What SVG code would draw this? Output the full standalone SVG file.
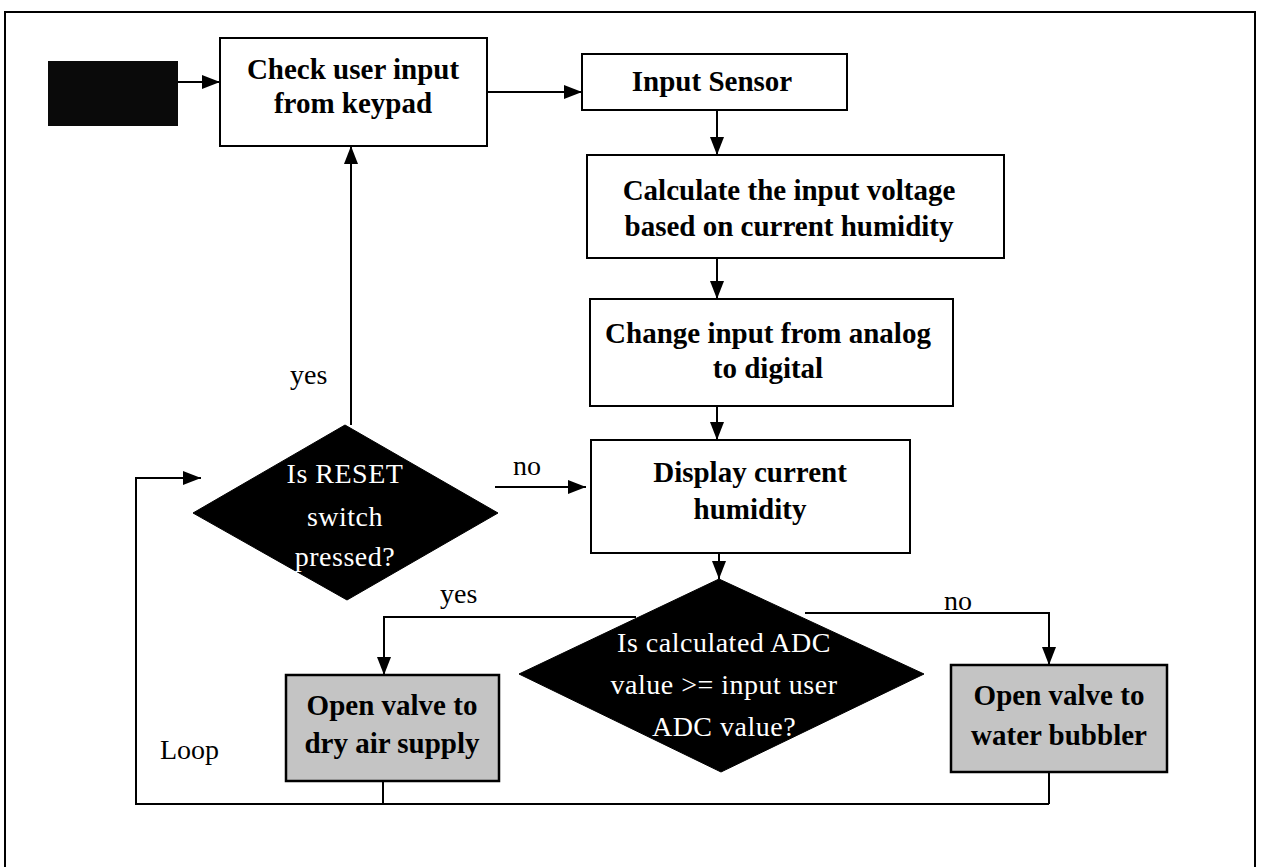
<svg xmlns="http://www.w3.org/2000/svg" width="1262" height="867" viewBox="0 0 1262 867">
<defs>
<marker id="ah" viewBox="0 0 18 14" refX="18" refY="7" markerWidth="18" markerHeight="14" markerUnits="userSpaceOnUse" orient="auto">
<path d="M0,0 L18,7 L0,14 Z" fill="#000"/>
</marker>
</defs>
<style>
.box{fill:#fff;stroke:#000;stroke-width:2}
.gbox{fill:#c4c4c4;stroke:#000;stroke-width:2.5}
.dia{fill:#000;stroke:#000;stroke-width:1}
.t{font-family:"Liberation Serif","Times New Roman",serif;font-size:29px;font-weight:bold;fill:#000;text-anchor:middle}
.w{font-family:"Liberation Serif","Times New Roman",serif;font-size:28px;fill:#fff;text-anchor:middle;letter-spacing:0.5px}
.lbl{font-family:"Liberation Serif","Times New Roman",serif;font-size:28px;fill:#000}
.c{fill:none;stroke:#000;stroke-width:2}
.ca{fill:none;stroke:#000;stroke-width:2;marker-end:url(#ah)}
</style>
<rect x="0" y="0" width="1262" height="867" fill="#fff"/>
<path d="M5,867 V12 H1255 V867" fill="none" stroke="#000" stroke-width="2"/>

<g id="connectors">
<line class="ca" x1="178" y1="82" x2="220" y2="82"/>
<line class="ca" x1="487" y1="92" x2="582" y2="92"/>
<line class="ca" x1="717" y1="110" x2="717" y2="155"/>
<line class="ca" x1="717" y1="258" x2="717" y2="299"/>
<line class="ca" x1="717" y1="406" x2="717" y2="440"/>
<line class="ca" x1="719" y1="553" x2="719" y2="579"/>
<polyline class="ca" points="636,617 384,617 384,675"/>
<polyline class="ca" points="805,613 1049,613 1049,665"/>
<line class="c" x1="383" y1="781" x2="383" y2="804"/>
<line class="c" x1="1049" y1="772" x2="1049" y2="804"/>
<polyline class="ca" points="1049,804 136,804 136,478 201,478"/>
<line class="ca" x1="351" y1="425" x2="351" y2="146"/>
<line class="ca" x1="495" y1="487" x2="586" y2="487"/>
<text class="lbl" x="290" y="384">yes</text>
<text class="lbl" x="513" y="475">no</text>
<text class="lbl" x="440" y="603">yes</text>
<text class="lbl" x="944" y="610">no</text>
<text class="lbl" x="160" y="759">Loop</text>
</g>

<g id="start">
<rect x="48" y="61" width="130" height="65" fill="#0a0a0a"/>
</g>

<g id="check">
<rect class="box" x="220" y="38" width="267" height="108"/>
<text class="t" x="353" y="79">Check user input</text>
<text class="t" x="353" y="113">from keypad</text>
</g>

<g id="sensor">
<rect class="box" x="582" y="54" width="265" height="56"/>
<text class="t" x="712" y="91">Input Sensor</text>
</g>

<g id="calc">
<rect class="box" x="587" y="155" width="417" height="103"/>
<text class="t" x="789" y="200">Calculate the input voltage</text>
<text class="t" x="789" y="236">based on current humidity</text>
</g>

<g id="change">
<rect class="box" x="590" y="299" width="363" height="107"/>
<text class="t" x="768" y="343">Change input from analog</text>
<text class="t" x="768" y="378">to digital</text>
</g>

<g id="display">
<rect class="box" x="591" y="440" width="319" height="113"/>
<text class="t" x="750" y="482">Display current</text>
<text class="t" x="750" y="519">humidity</text>
</g>

<g id="reset">
<polygon class="dia" points="345,425 498,513 347,600 193,513"/>
<text class="w" x="345" y="483">Is RESET</text>
<text class="w" x="345" y="526">switch</text>
<text class="w" x="345" y="566">pressed?</text>
</g>

<g id="compare">
<polygon class="dia" points="719,579 924,674 721,772 519,674"/>
<text class="w" x="724" y="652">Is calculated ADC</text>
<text class="w" x="724" y="694">value &gt;= input user</text>
<text class="w" x="724" y="736">ADC value?</text>
</g>

<g id="dry">
<rect class="gbox" x="286" y="675" width="213" height="106"/>
<text class="t" x="392" y="715">Open valve to</text>
<text class="t" x="392" y="753">dry air supply</text>
</g>

<g id="water">
<rect class="gbox" x="951" y="665" width="216" height="107"/>
<text class="t" x="1059" y="705">Open valve to</text>
<text class="t" x="1059" y="745">water bubbler</text>
</g>
</svg>
